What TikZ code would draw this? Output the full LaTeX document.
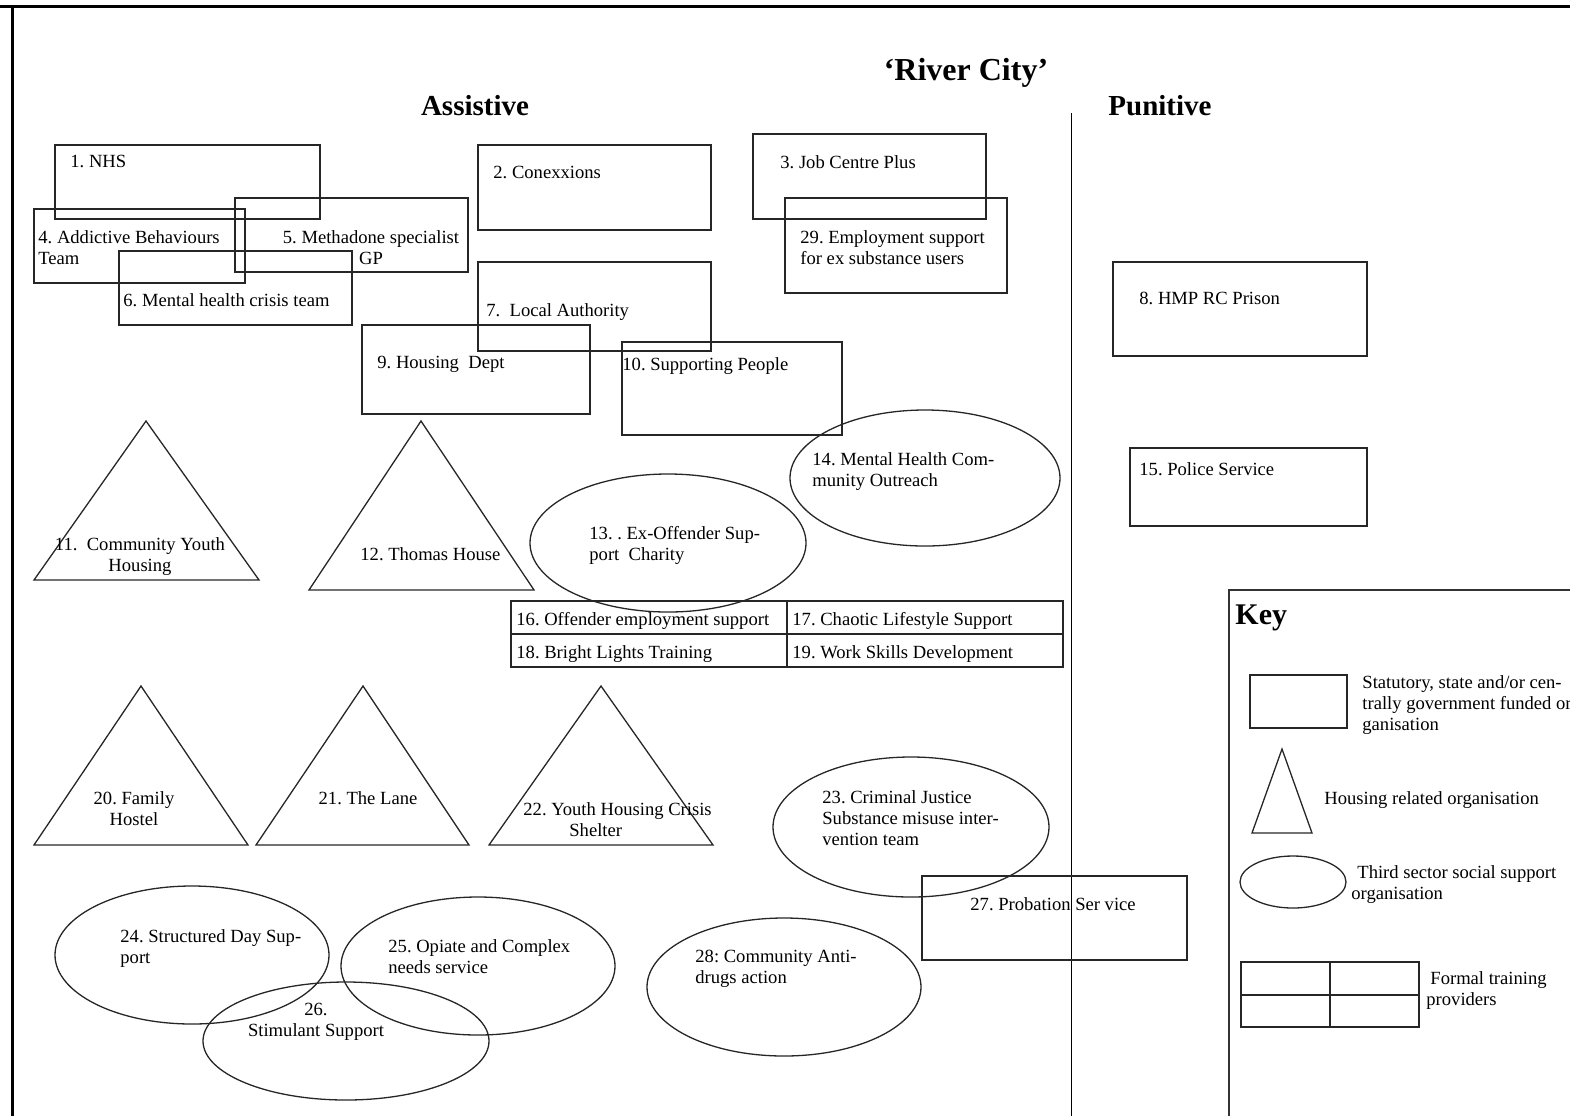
\documentclass[tikz,border=0pt]{standalone}
\usepackage{fontspec}
\setmainfont{Liberation Serif}
\frenchspacing

\begin{document}
\begin{tikzpicture}
                \tikzset{x=0.5pt, y=-0.5pt}
                \tikzstyle{lbl}=[anchor=north west, inner sep=0pt, align=left, font=\fontsize{9.3}{10.5}\selectfont]
                \tikzstyle{clbl}=[lbl, anchor=north, align=center]
                \tikzstyle{heading}=[anchor=base, inner sep=0pt, font=\bfseries\fontsize{14.5}{17}\selectfont]
                \tikzstyle{org}=[draw=black!85, line width=0.65pt]

                \useasboundingbox (0,0) rectangle (1570,1116);

                % frame and divider
                \draw [line width=1.5pt] (0,6) -- (1570,6);
                \draw [line width=1.5pt] (12,6) -- (12,1116);
                \draw [line width=0.5pt] (1071,113) -- (1071,1116);

                \draw (966,80)      node[heading, font=\bfseries\fontsize{16}{19}\selectfont] (city) {‘River City’};
                \draw (475,115)     node[heading]   (assist)  {Assistive};
                \draw (1160,115)    node[heading]   (punit)   {Punitive};

                % statutory organisations
                \draw [org] (55,145)   rectangle (320,219);
                \draw [org] (478,145)  rectangle (711,230);
                \draw [org] (753,134)  rectangle (986,219);
                \draw [org] (34,209)   rectangle (245,283);
                \draw [org] (235,198)  rectangle (468,272);
                \draw [org] (119,251)  rectangle (352,325);
                \draw [org] (478,262)  rectangle (711,351);
                \draw [org] (362,325)  rectangle (590,414);
                \draw [org] (622,342)  rectangle (842,435);
                \draw [org] (785,198)  rectangle (1007,293);
                \draw [org] (1113,262) rectangle (1367,356);
                \draw [org] (1130,448) rectangle (1367,526);
                \draw [org] (922,876)  rectangle (1187,960);

                \draw (70,155)      node[lbl]   (nhs)     {1. NHS};
                \draw (493,166)     node[lbl]   (conx)    {2. Conexxions};
                \draw (780,155)     node[lbl]   (jcp)     {3. Job Centre Plus};
                \draw (38,230)      node[lbl]   (abt)     {4. Addictive Behaviours\\Team};
                \draw (371,230)     node[clbl]  (msgp)    {5. Methadone specialist\\GP};
                \draw (123,293)     node[lbl]   (mhct)    {6. Mental health crisis team};
                \draw (486,303)     node[lbl]   (la)      {7.~ Local Authority};
                \draw (377,356)     node[lbl]   (hdept)   {9. Housing~ Dept};
                \draw (622,357)     node[lbl]   (supp)    {10. Supporting People};
                \draw (800,230)     node[lbl]   (emp)     {29. Employment support\\for ex substance users};
                \draw (1139,292)    node[lbl]   (hmp)     {8. HMP RC Prison};
                \draw (1139,462)    node[lbl]   (police)  {15. Police Service};
                \draw (970,897)     node[lbl]   (prob)    {27. Probation Ser vice};

                % housing
                \draw [org] (146,421) -- (259,580) -- (34,580) -- cycle;
                \draw [org] (421,421) -- (534,590) -- (309,590) -- cycle;
                \draw [org] (141,686) -- (248,845) -- (34,845) -- cycle;
                \draw [org] (363,686) -- (469,845) -- (256,845) -- cycle;
                \draw [org] (601,686) -- (713,845) -- (489,845) -- cycle;

                \draw (140,537)     node[clbl]  (cyh)     {11.~ Community Youth\\Housing};
                \draw (360,547)     node[lbl]   (thomas)  {12. Thomas House};
                \draw (134,791)     node[clbl]  (fhost)   {20. Family\\Hostel};
                \draw (368,791)     node[clbl]  (lane)    {21. The Lane};
                \draw (523,802)     node[lbl]   (yhcs)    {22. Youth Housing Crisis\\\hspace*{23pt}Shelter};

                % third sector
                \draw [org] (668,543)  ellipse [x radius=138, y radius=69];
                \draw [org] (925,478)  ellipse [x radius=135, y radius=68];
                \draw [org] (911,827)  ellipse [x radius=138, y radius=70];
                \draw [org] (192,955)  ellipse [x radius=137, y radius=69];
                \draw [org] (478,966)  ellipse [x radius=137, y radius=69];
                \draw [org] (346,1041) ellipse [x radius=143, y radius=59];
                \draw [org] (784,987)  ellipse [x radius=137, y radius=69];

                \draw (589,526)     node[lbl]   (exoff)   {13. . Ex-Offender Sup-\\port~ Charity};
                \draw (812,452)     node[lbl]   (mhco)    {14. Mental Health Com-\\munity Outreach};
                \draw (822,790)     node[lbl]   (cjsm)    {23. Criminal Justice\\Substance misuse inter-\\vention team};
                \draw (120,929)     node[lbl]   (sds)     {24. Structured Day Sup-\\port};
                \draw (388,939)     node[lbl]   (opc)     {25. Opiate and Complex\\needs service};
                \draw (316,1003)    node[clbl]  (stim)    {26.\\Stimulant Support};
                \draw (695,950)     node[lbl]   (cada)    {28: Community Anti-\\drugs action};

                % training providers
                \draw [org] (511,601) rectangle (1063,667);
                \draw [org] (787,601) -- (787,667);
                \draw [org] (511,634) -- (1063,634);

                \draw (516,612)     node[lbl]   (oes)     {16. Offender employment support};
                \draw (792,612)     node[lbl]   (cls)     {17. Chaotic Lifestyle Support};
                \draw (516,645)     node[lbl]   (blt)     {18. Bright Lights Training};
                \draw (792,645)     node[lbl]   (wsd)     {19. Work Skills Development};

                % key
                \draw [line width=1pt, draw=black!80] (1229,1116) -- (1229,590) -- (1570,590);
                \draw (1235,624)    node[heading, anchor=base west, font=\bfseries\fontsize{15}{18}\selectfont] (key) {Key};

                \draw [org] (1250,675) rectangle (1347,728);
                \draw [org] (1282,749) -- (1312,833) -- (1252,833) -- cycle;
                \draw [org] (1293,882) ellipse [x radius=53, y radius=26];
                \draw [org] (1241,962) rectangle (1419,1027);
                \draw [org] (1330,962) -- (1330,1027);
                \draw [org] (1241,995) -- (1419,995);

                \draw (1362,675)    node[lbl]   (kstat)   {Statutory, state and/or cen-\\trally government funded or\\ganisation};
                \draw (1324,791)    node[lbl]   (khouse)  {Housing related organisation};
                \draw (1351,865)    node[lbl]   (kthird)  {\hspace*{3pt}Third sector social support\\organisation};
                \draw (1426,971)    node[lbl]   (ktrain)  {\hspace*{2pt}Formal training\\providers};
            \end{tikzpicture}
\end{document}
